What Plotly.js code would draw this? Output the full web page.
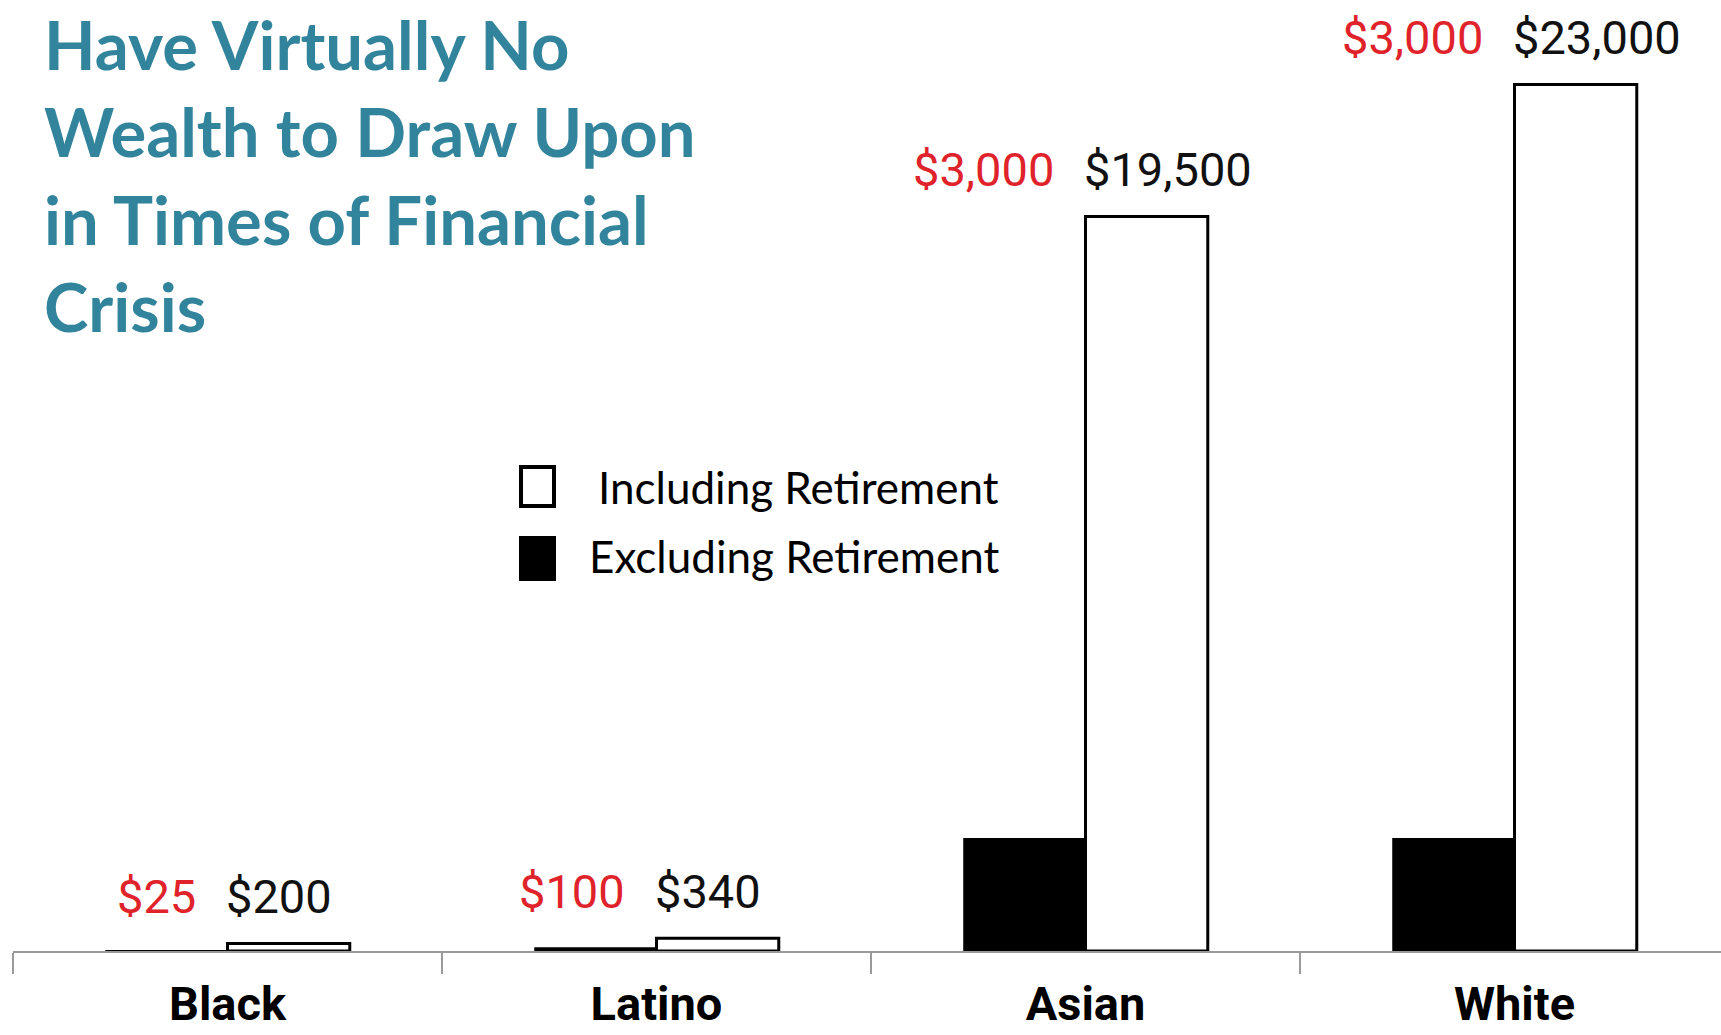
<!DOCTYPE html>
<html>
<head>
<meta charset="utf-8">
<script src="https://cdn.plot.ly/plotly-3.0.1.min.js"></script>
<style>
  html, body { margin: 0; padding: 0; background: #ffffff; }
  #chart { width: 1721px; height: 1035px; }
</style>
</head>
<body>
<div id="chart"></div>
<script>
// ---- data ----
var categories = ['Black', 'Latino', 'Asian', 'White'];
var excludingRetirement = [25, 100, 3000, 3000];
var includingRetirement = [200, 340, 19500, 23000];
var seriesNames = ['Including Retirement', 'Excluding Retirement'];
var titleLines = ['Have Virtually No', 'Wealth to Draw Upon', 'in Times of Financial', 'Crisis'];

function money(v) { return '$' + v.toLocaleString('en-US'); }

var teal = '#31849B';
var red = '#e0232b';

var traces = [
  {
    type: 'bar',
    name: seriesNames[1],
    x: categories,
    y: excludingRetirement,
    marker: { color: '#000000', line: { color: '#000000', width: 0 } },
    hoverinfo: 'skip'
  },
  {
    type: 'bar',
    name: seriesNames[0],
    x: categories,
    y: includingRetirement,
    marker: { color: '#ffffff', line: { color: '#000000', width: 3 } },
    hoverinfo: 'skip'
  }
];

var annotations = [];
categories.forEach(function (c, i) {
  annotations.push({
    x: c, y: includingRetirement[i], xref: 'x', yref: 'y',
    text: money(includingRetirement[i]), showarrow: false,
    xanchor: 'left', yanchor: 'middle', xshift: -4, yshift: 47,
    font: { family: 'Roboto, "DejaVu Sans", sans-serif', size: 47, color: '#111111' }
  });
  annotations.push({
    x: c, y: includingRetirement[i], xref: 'x', yref: 'y',
    text: money(excludingRetirement[i]), showarrow: false,
    xanchor: 'right', yanchor: 'middle', xshift: -30, yshift: 47,
    font: { family: 'Roboto, "DejaVu Sans", sans-serif', size: 47, color: red }
  });
});

// legend labels
var plotL = 13, plotW = 1708, plotB = 951;
function px2x(px) { return (px - plotL) / plotW; }
function py2y(py) { return (plotB - py) / plotB; }

annotations.push({
  xref: 'paper', yref: 'paper', x: px2x(1001), y: py2y(487),
  xanchor: 'right', yanchor: 'middle', showarrow: false,
  text: seriesNames[0],
  font: { family: 'Lato, "Open Sans", sans-serif', size: 44, color: '#000000' }
});
annotations.push({
  xref: 'paper', yref: 'paper', x: px2x(1001), y: py2y(556),
  xanchor: 'right', yanchor: 'middle', showarrow: false,
  text: seriesNames[1],
  font: { family: 'Lato, "Open Sans", sans-serif', size: 44, color: '#000000' }
});

var shapes = [
  { type: 'rect', xref: 'paper', yref: 'paper',
    x0: px2x(521), x1: px2x(554), y0: py2y(506), y1: py2y(467),
    line: { color: '#000000', width: 4 }, fillcolor: '#ffffff' },
  { type: 'rect', xref: 'paper', yref: 'paper',
    x0: px2x(519), x1: px2x(556), y0: py2y(581), y1: py2y(536),
    line: { color: '#000000', width: 0 }, fillcolor: '#000000' }
];

var layout = {
  width: 1721,
  height: 1035,
  margin: { l: 13, r: 0, t: 0, b: 84, pad: 0 },
  paper_bgcolor: '#ffffff',
  plot_bgcolor: '#ffffff',
  showlegend: false,
  barmode: 'group',
  bargap: 0.43,
  bargroupgap: 0,
  title: {
    text: titleLines.join('<br>'),
    xref: 'container', yref: 'container',
    x: 0.0256, xanchor: 'left',
    y: 0.932, yanchor: 'top',
    pad: { t: 0, b: 0, l: 0, r: 0 },
    font: { family: 'Lato, "Open Sans", sans-serif', size: 67, weight: 'bold', color: teal }
  },
  xaxis: {
    type: 'category',
    range: [-0.5, -0.5 + 1708 / 429],
    showline: true, linecolor: '#9a9a9a', linewidth: 2,
    ticks: 'outside', tickson: 'boundaries', ticklen: 21, tickwidth: 2, tickcolor: '#9a9a9a',
    showgrid: false, zeroline: false, automargin: false,
    ticklabelstandoff: 11,
    tickfont: { family: 'Roboto, "Liberation Sans", sans-serif', size: 47, weight: 'bold', color: '#000000' }
  },
  yaxis: {
    range: [0, 25245],
    visible: false, showgrid: false, zeroline: false, automargin: false
  },
  annotations: annotations,
  shapes: shapes
};

Plotly.newPlot('chart', traces, layout, { staticPlot: true, displayModeBar: false });
</script>
</body>
</html>
